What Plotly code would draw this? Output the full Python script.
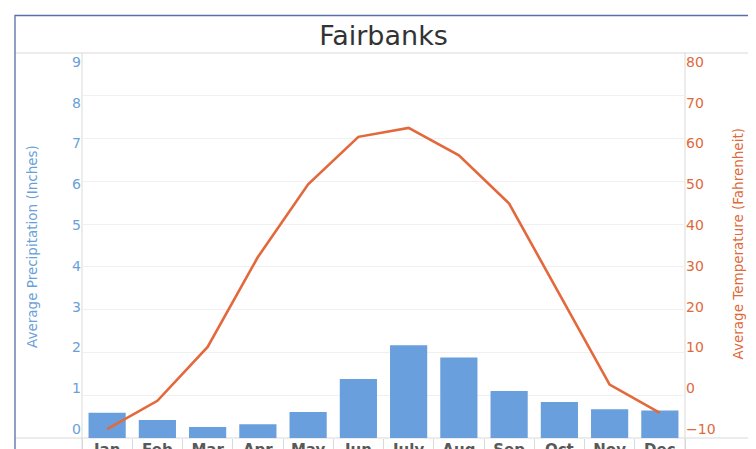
import plotly.graph_objects as go

# ---- data ----
months = ["Jan", "Feb", "Mar", "Apr", "May", "Jun", "July", "Aug", "Sep", "Oct", "Nov", "Dec"]
precip_in = [0.59, 0.42, 0.26, 0.32, 0.61, 1.38, 2.17, 1.88, 1.10, 0.84, 0.67, 0.64]
temp_f = [-7.9, -1.3, 11.3, 32.3, 49.3, 60.4, 62.5, 56.1, 44.8, 23.7, 2.5, -4.1]
precip_ticks = list(range(0, 10))
temp_ticks = list(range(-10, 90, 10))

BAR = "#699fdd"
LINE = "#e3683b"
BLUE_TXT = "#6a9fd8"
ORANGE_TXT = "#e0693b"
FONT = "DejaVu Sans"

# page body has an 8px default margin; layout is offset to compensate
OFF = 8

fig = go.Figure()
fig.add_trace(go.Bar(x=months, y=precip_in, marker=dict(color=BAR, line=dict(width=0)),
                     yaxis="y", name="Precipitation"))
fig.add_trace(go.Scatter(x=months, y=temp_f, mode="lines", line=dict(color=LINE, width=2.6),
                         yaxis="y2", name="Temperature"))
# empty traces to carry the label axes
fig.add_trace(go.Scatter(x=[], y=[], yaxis="y3", hoverinfo="skip", showlegend=False))
fig.add_trace(go.Scatter(x=[], y=[], yaxis="y4", hoverinfo="skip", showlegend=False))

fig.update_layout(
    width=756, height=449,
    margin=dict(l=82 - OFF, r=71 + OFF, t=53 - OFF, b=11 + OFF, pad=0, autoexpand=False),
    paper_bgcolor="white", plot_bgcolor="white",
    showlegend=False,
    font=dict(family=FONT),
    title=dict(text="Fairbanks", x=0.5, xref="paper", xanchor="center",
               y=1 - (36 - OFF) / 449, yref="container", yanchor="middle",
               font=dict(family=FONT, size=27, color="#333333")),
    bargap=0.26,
    xaxis=dict(type="category", range=[-0.5, 11.5], showgrid=False, zeroline=False,
               showline=False, ticks="outside", tickson="boundaries", ticklen=12,
               tickcolor="#d9d9d9", tickwidth=1, ticklabelstandoff=1, automargin=False,
               tickfont=dict(family=FONT, size=15, color="#595959", weight="bold")),
    yaxis=dict(range=[0, 9], dtick=1, showgrid=True, gridcolor="#f0f0f0", gridwidth=1,
               zeroline=False, showline=False, showticklabels=False, ticks="",
               automargin=False),
    yaxis2=dict(overlaying="y", side="right", range=[-10, 80], showgrid=False,
                zeroline=False, showline=False, showticklabels=False, ticks="",
                automargin=False),
    yaxis3=dict(overlaying="y", side="left", range=[-0.2207, 9.2207], tickvals=precip_ticks,
                showgrid=False, zeroline=False, showline=False, ticks="", automargin=False,
                tickfont=dict(family=FONT, size=14, color=BLUE_TXT)),
    yaxis4=dict(overlaying="y", side="right", range=[-12.207, 82.207], tickvals=temp_ticks,
                showgrid=False, zeroline=False, showline=False, ticks="", automargin=False,
                tickfont=dict(family=FONT, size=14, color=ORANGE_TXT)),
)

xl = (15 - 82) / 603
xr = (754.5 - 82) / 603
fig.add_shape(type="rect", xref="paper", yref="paper", x0=xl, x1=xr, y0=-0.3,
              y1=(438 - 15.5) / 385, line=dict(color="#5a6ea8", width=1.3), layer="above")
for yy in (0, 1):
    fig.add_shape(type="line", xref="paper", yref="paper", x0=xl, x1=xr, y0=yy, y1=yy,
                  line=dict(color="#d9d9d9", width=1), layer="below")
for xx in (0, 1):
    fig.add_shape(type="line", xref="paper", yref="paper", x0=xx, x1=xx, y0=-0.3, y1=1,
                  line=dict(color="#d9d9d9", width=1), layer="below")

fig.add_annotation(text="Average Precipitation (Inches)", xref="paper", yref="paper",
                   x=(32 - 82) / 603, y=(438 - 247) / 385, textangle=-90, showarrow=False,
                   xanchor="center", yanchor="middle",
                   font=dict(family=FONT, size=13.5, color=BLUE_TXT))
fig.add_annotation(text="Average Temperature (Fahrenheit)", xref="paper", yref="paper",
                   x=(737 - 82) / 603, y=(438 - 244.5) / 385, textangle=-90, showarrow=False,
                   xanchor="center", yanchor="middle",
                   font=dict(family=FONT, size=13.5, color=ORANGE_TXT))

fig.write_html("out.html")
